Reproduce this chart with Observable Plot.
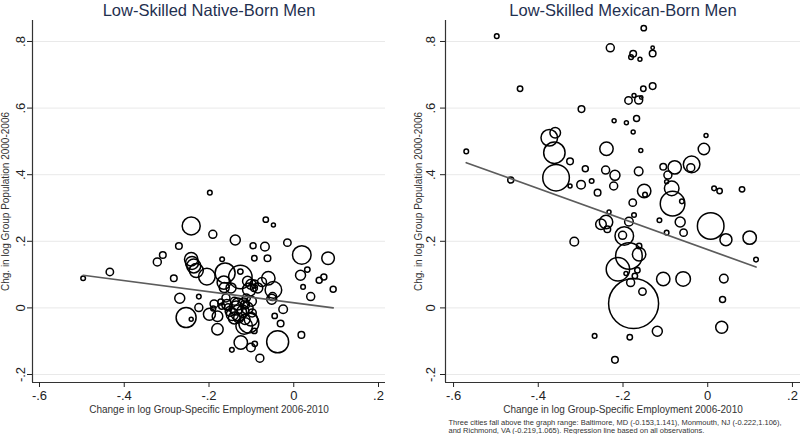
<!DOCTYPE html>
<html>
<head>
<meta charset="utf-8">
<script src="https://cdn.jsdelivr.net/npm/d3@7"></script>
<script src="https://cdn.jsdelivr.net/npm/@observablehq/plot@0.6"></script>
<style>
  html, body { margin: 0; padding: 0; background: #fff; }
  #wrap { position: relative; width: 800px; height: 434px; display: flex; background: #fff; }
  #wrap svg { display: block; }
</style>
</head>
<body>
<div id="wrap"></div>
<script>
// ---------- Data ----------
const titles = ["Low-Skilled Native-Born Men", "Low-Skilled Mexican-Born Men"];
const xLabel = "Change in log Group-Specific Employment 2006-2010";
const yLabel = "Chg. in log Group Population 2000-2006";
const note = "Three cities fall above the graph range: Baltimore, MD (-0.153,1.141), Monmouth, NJ (-0.222,1.106),\nand Richmond, VA (-0.219,1.065). Regression line based on all observations.";
const xTicks = [-0.6, -0.4, -0.2, 0, 0.2];
const yTicks = [-0.2, 0, 0.2, 0.4, 0.6, 0.8];

// Native-born men: employment change, population change, group weight
const nativeX = [-0.497,-0.434,-0.322,-0.309,-0.283,-0.271,-0.269,-0.254,-0.242,-0.242,-0.242,-0.240,-0.236,-0.230,-0.224,-0.224,-0.205,-0.199,-0.198,-0.191,-0.180,-0.188,-0.180,-0.169,-0.162,-0.165,-0.164,-0.160,-0.158,-0.155,-0.150,-0.146,-0.145,-0.140,-0.138,-0.136,-0.132,-0.130,-0.126,-0.126,-0.125,-0.101,-0.120,-0.118,-0.117,-0.115,-0.112,-0.110,-0.106,-0.101,-0.101,-0.100,-0.098,-0.096,-0.094,-0.093,-0.093,-0.092,-0.093,-0.085,-0.080,-0.075,-0.068,-0.066,-0.062,-0.060,-0.048,-0.052,-0.050,-0.048,-0.045,-0.038,-0.031,-0.025,-0.015,0.016,0.018,0.019,0.022,0.032,0.040,0.060,0.071,0.081,0.093,-0.190,-0.170,-0.172,-0.130,-0.140,-0.115,-0.148,-0.109,-0.105];
const nativeY = [0.089,0.108,0.138,0.159,0.089,0.186,0.029,-0.029,-0.034,0.246,0.146,0.135,0.126,0.112,0.034,0.001,0.094,-0.019,0.346,0.221,-0.064,0.012,-0.025,0.146,0.105,0.076,0.061,0.030,0.010,0.002,-0.010,-0.126,-0.020,0.020,0.204,0.000,0.012,-0.030,0.093,0.109,-0.104,0.071,-0.010,0.015,-0.054,-0.035,0.030,0.000,-0.045,-0.119,-0.034,0.020,-0.015,0.187,0.060,0.149,-0.069,-0.108,0.072,0.060,-0.151,0.078,0.184,0.265,0.149,0.089,0.054,0.026,0.034,0.249,-0.024,-0.102,-0.047,-0.004,0.196,0.098,-0.081,0.159,0.063,0.115,0.034,0.083,0.093,0.149,0.056,-0.002,0.005,0.018,-0.015,-0.030,0.010,0.060,0.080,0.055];
const nativeW = [53,137,160,109,109,109,250,1000,40,810,449,423,490,490,53,160,689,360,53,160,325,160,281,53,1000,449,250,160,250,123,250,53,360,160,250,490,360,250,1369,73,449,250,360,250,689,250,160,360,1000,185,449,250,160,90,123,73,73,73,160,250,160,203,185,73,109,449,689,250,160,40,73,1210,109,185,137,250,109,865,53,73,160,90,90,397,90,63,90,90,640,360,203,250,250,449];

// Mexican-born men
const mexX = [-0.570,-0.498,-0.465,-0.443,-0.374,-0.360,-0.362,-0.358,-0.325,-0.325,-0.315,-0.299,-0.298,-0.289,-0.274,-0.267,-0.260,-0.252,-0.241,-0.239,-0.240,-0.237,-0.233,-0.230,-0.222,-0.221,-0.219,-0.219,-0.212,-0.201,-0.197,-0.193,-0.192,-0.187,-0.186,-0.186,-0.184,-0.182,-0.181,-0.177,-0.176,-0.176,-0.175,-0.174,-0.174,-0.172,-0.168,-0.166,-0.163,-0.163,-0.162,-0.162,-0.160,-0.158,-0.157,-0.154,-0.152,-0.151,-0.150,-0.148,-0.130,-0.130,-0.130,-0.119,-0.114,-0.105,-0.105,-0.097,-0.097,-0.094,-0.085,-0.083,-0.078,-0.065,-0.061,-0.058,-0.057,-0.040,-0.038,-0.009,-0.004,0.007,0.015,0.028,0.033,0.035,0.038,0.043,0.081,0.099,0.114];
const mexY = [0.470,0.816,0.384,0.658,0.511,0.526,0.466,0.391,0.440,0.366,0.199,0.370,0.597,0.418,0.381,-0.084,0.346,0.251,0.414,0.478,0.258,0.236,0.288,0.781,0.366,0.562,0.398,-0.156,0.116,0.218,0.216,0.103,0.556,0.623,0.259,0.156,-0.088,0.076,0.753,0.316,0.763,0.528,0.013,0.638,0.279,0.096,0.569,0.113,0.624,0.410,0.161,0.186,0.747,0.473,0.632,0.049,0.658,0.840,0.351,0.340,0.781,0.764,0.666,-0.070,0.263,0.424,0.087,0.379,0.226,0.399,0.359,0.313,0.422,0.258,0.320,0.087,0.226,0.421,0.431,0.477,0.518,0.246,0.359,0.351,-0.058,0.025,0.088,0.205,0.356,0.211,0.145];
const mexW = [53,53,90,73,689,281,1145,1769,109,40,185,185,109,90,53,53,109,281,160,449,449,109,40,160,160,40,250,109,1369,160,865,40,40,137,185,1769,73,160,53,137,109,40,6250,40,53,73,90,73,160,185,449,73,40,40,29,137,73,73,449,53,29,109,109,250,53,109,449,40,53,160,533,1513,449,250,53,533,137,160,689,325,40,1769,53,73,360,90,185,360,73,449,53];

// Weighted regression coefficients (intercept, slope), estimated on all observations
const nativeFit = [0.0155, -0.166];
const mexFit = [0.175, -0.458];

// ---------- Drawing ----------
const font = "'Liberation Sans', Arial, Helvetica, sans-serif";
const fmt = d => d === 0 ? "0" : String(d).replace(/^(-?)0\./, "$1.");

function panel({title, xs, ys, ws, fit, marginLeft, marginRight, xDomain, yTickPad, withNote}) {
  const yDomain = [-0.224, 0.863];
  const pts = xs.map((x, i) => ({x, y: ys[i], w: ws[i]}));
  const line = d3.extent(xs).map(x => ({x, y: fit[0] + fit[1] * x}));
  const marks = [
    Plot.gridY(yTicks, {stroke: "#e9e9e9", strokeOpacity: 1, strokeWidth: 1}),
    Plot.ruleX([xDomain[0]], {stroke: "#333", strokeWidth: 1.2}),
    Plot.ruleY([yDomain[0]], {stroke: "#333", strokeWidth: 1.2}),
    Plot.axisX(xTicks, {tickFormat: fmt, tickSize: 5, tickPadding: 3, fontSize: 13, label: null, color: "#222"}),
    Plot.axisY(yTicks, {tickFormat: fmt, tickSize: 5, tickRotate: -90, tickPadding: yTickPad, fontSize: 13, label: null, color: "#222"}),
    Plot.dot(pts, {x: "x", y: "y", r: "w", stroke: "#000", strokeWidth: 1.5, fill: "none"}),
    Plot.line(line, {x: "x", y: "y", stroke: "#5c5c5c", strokeWidth: 1.7}),
    Plot.text([title], {text: d => d, frameAnchor: "top", dy: -4.8, lineAnchor: "bottom", fontSize: 16.5, fill: "#1f3050"}),
    Plot.text([xLabel], {text: d => d, frameAnchor: "bottom", dy: 27, lineAnchor: "middle", fontSize: 10, fill: "#333"}),
    Plot.text([yLabel], {text: d => d, frameAnchor: "left", dx: -27, rotate: -90, lineAnchor: "middle", textAnchor: "middle", fontSize: 10, fill: "#333"})
  ];
  if (withNote) {
    marks.push(Plot.text([note], {text: d => d, frameAnchor: "bottom-left", dx: 3, dy: 50.5, lineAnchor: "bottom", textAnchor: "start", fontSize: 7.5, lineHeight: 1.1, fill: "#333"}));
  }
  return Plot.plot({
    width: 400,
    height: 434,
    marginTop: 20,
    marginBottom: 52,
    marginLeft,
    marginRight,
    style: {fontFamily: font, background: "transparent", overflow: "visible"},
    x: {domain: xDomain},
    y: {domain: yDomain},
    r: {type: "sqrt", domain: [0, 6250], range: [0, 25]},
    marks
  });
}

const wrap = document.getElementById("wrap");
wrap.appendChild(panel({title: titles[0], xs: nativeX, ys: nativeY, ws: nativeW, fit: nativeFit,
  marginLeft: 32, marginRight: 15, xDomain: [-0.6165, 0.2165], yTickPad: 2.4, withNote: false}));
wrap.appendChild(panel({title: titles[1], xs: mexX, ys: mexY, ws: mexW, fit: mexFit,
  marginLeft: 45, marginRight: 0, xDomain: [-0.619, 0.219], yTickPad: 5.4, withNote: true}));
</script>
</body>
</html>
